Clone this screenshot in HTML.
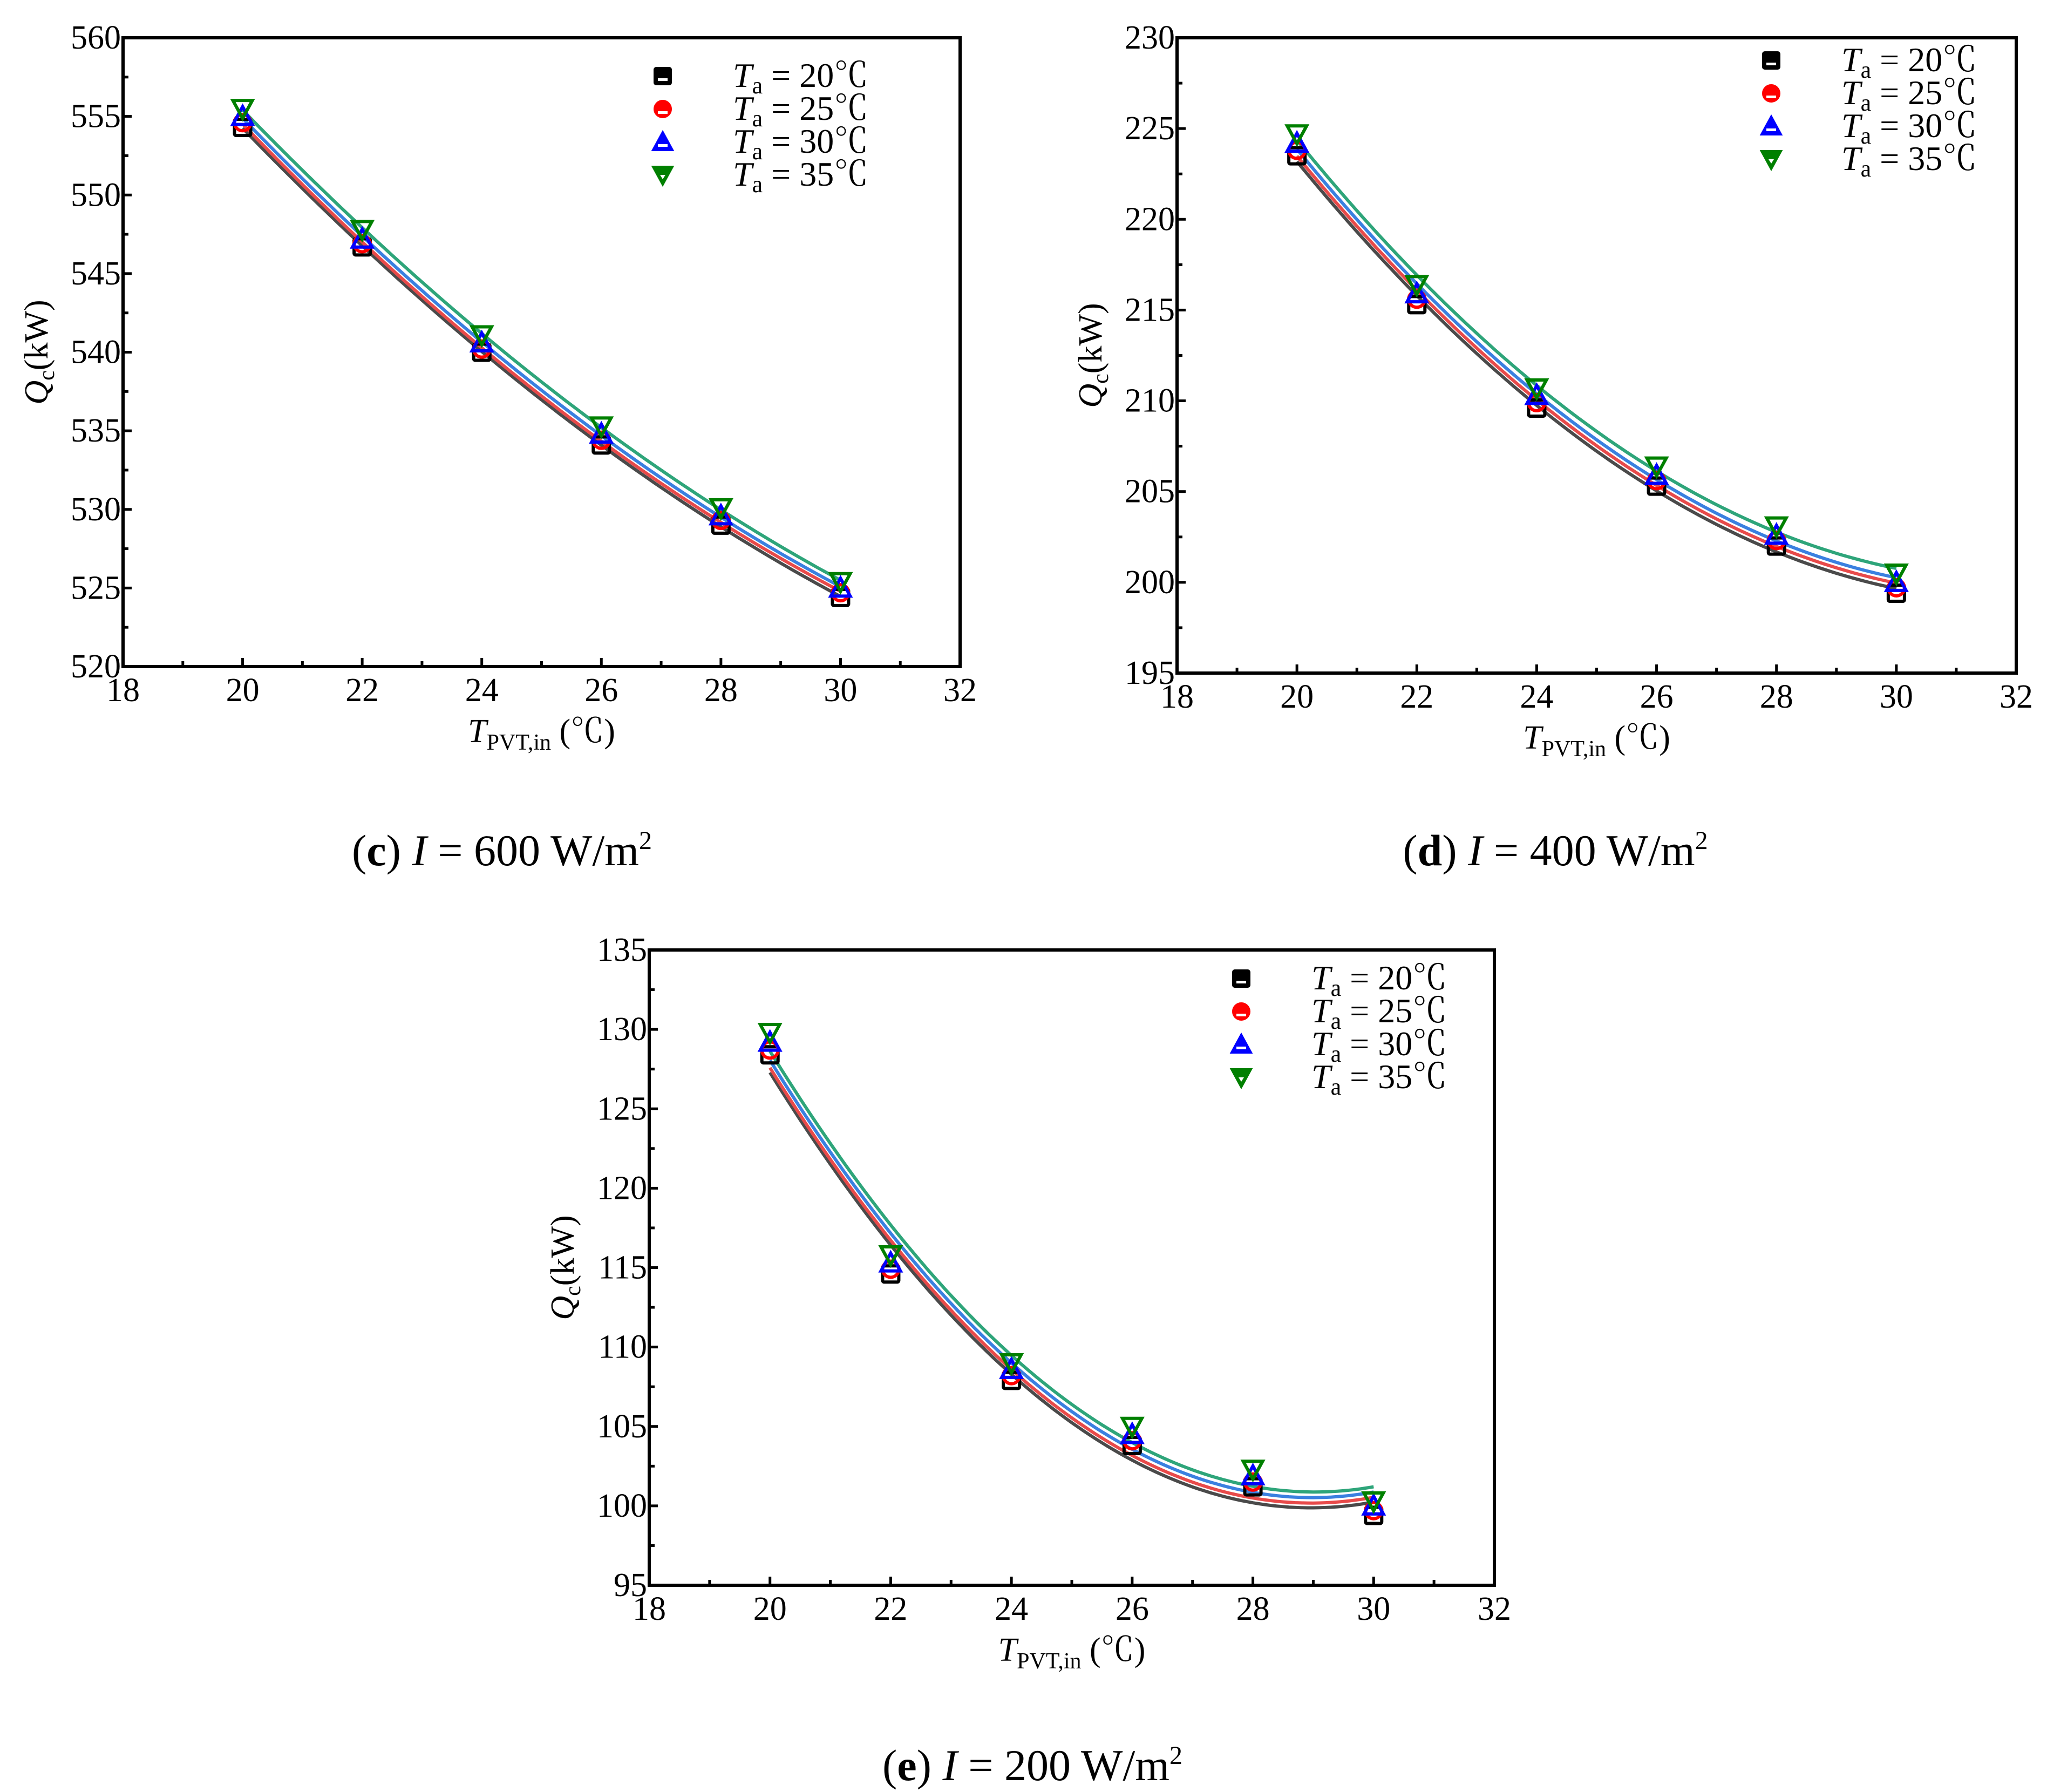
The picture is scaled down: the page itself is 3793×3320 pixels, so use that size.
<!DOCTYPE html>
<html><head><meta charset="utf-8">
<style>
html,body{margin:0;padding:0;background:#fff;}
svg{display:block;font-family:"Liberation Serif","Noto Serif CJK SC",serif;}
</style></head>
<body>
<svg id="fig" width="3793" height="3320" viewBox="0 0 3793 3320" xmlns="http://www.w3.org/2000/svg"></svg>
<script>
const xCats = [20, 22, 24, 26, 28, 30];
const seriesNames = ["20", "25", "30", "35"];
const c_Ta20 = [554.3, 546.7, 540.0, 534.1, 529.0, 524.4];
const c_Ta25 = [554.6, 546.9, 540.2, 534.4, 529.3, 524.7];
const c_Ta30 = [555.0, 547.2, 540.6, 534.8, 529.6, 525.0];
const c_Ta35 = [555.5, 547.8, 541.1, 535.3, 530.1, 525.4];
const d_Ta20 = [223.5, 215.3, 209.6, 205.3, 202.0, 199.4];
const d_Ta25 = [223.8, 215.6, 209.9, 205.6, 202.3, 199.7];
const d_Ta30 = [224.2, 215.9, 210.3, 205.9, 202.6, 200.0];
const d_Ta35 = [224.7, 216.4, 210.7, 206.4, 203.1, 200.5];
const e_Ta20 = [128.4, 114.6, 107.9, 103.8, 101.2, 99.4];
const e_Ta25 = [128.7, 114.9, 108.2, 104.1, 101.5, 99.7];
const e_Ta30 = [129.2, 115.3, 108.6, 104.5, 101.9, 100.0];
const e_Ta35 = [129.8, 115.8, 109.0, 105.0, 102.3, 100.3];
const xTicks = [18, 20, 22, 24, 26, 28, 30, 32];
const c_yTicks = [520, 525, 530, 535, 540, 545, 550, 555, 560];
const d_yTicks = [195, 200, 205, 210, 215, 220, 225, 230];
const e_yTicks = [95, 100, 105, 110, 115, 120, 125, 130, 135];

const NS = "http://www.w3.org/2000/svg";
const svg = document.getElementById("fig");
const markerCols = ["#000000", "#ff0000", "#0000ff", "#008000"];
const lineCols = ["#4a4a4a", "#e84a4a", "#3a80e0", "#2ea57a"];
function mk(tag, attrs, parent) {
  const e = document.createElementNS(NS, tag);
  for (const k in attrs) e.setAttribute(k, attrs[k]);
  (parent || svg).appendChild(e);
  return e;
}
function quadFit(xs, ys) {
  let n = xs.length, S = [0,0,0,0,0], T = [0,0,0];
  for (let i = 0; i < n; i++) {
    const x = xs[i] - 25;
    for (let p = 0; p < 5; p++) S[p] += Math.pow(x, p);
    for (let p = 0; p < 3; p++) T[p] += ys[i] * Math.pow(x, p);
  }
  const A = [[S[0],S[1],S[2],T[0]],[S[1],S[2],S[3],T[1]],[S[2],S[3],S[4],T[2]]];
  for (let i = 0; i < 3; i++) {
    for (let j = i + 1; j < 3; j++) {
      const f = A[j][i] / A[i][i];
      for (let k = i; k < 4; k++) A[j][k] -= f * A[i][k];
    }
  }
  const c = [0,0,0];
  for (let i = 2; i >= 0; i--) {
    let s = A[i][3];
    for (let k = i + 1; k < 3; k++) s -= A[i][k] * c[k];
    c[i] = s / A[i][i];
  }
  return x => c[0] + c[1]*(x-25) + c[2]*(x-25)*(x-25);
}
function drawMarker(g, type, cx, cy, col, legend) {
  const s = 18, sw = 6;
  let el;
  if (type === 0) el = mk("rect", {x: cx-s+3, y: cy-s+3, width: 2*s-6, height: 2*s-6, rx: 3}, g);
  else if (type === 1) el = mk("circle", {cx: cx, cy: cy, r: s-3}, g);
  else if (type === 2) el = mk("polygon", {points: `${cx},${cy-s} ${cx+s},${cy+s-3} ${cx-s},${cy+s-3}`}, g);
  else el = mk("polygon", {points: `${cx-s},${cy-s+3} ${cx+s},${cy-s+3} ${cx},${cy+s}`}, g);
  if (legend) {
    el.setAttribute("fill", col); el.setAttribute("stroke", col); el.setAttribute("stroke-width", 4);
    if (type === 3) mk("polygon", {points: `${cx-5},${cy} ${cx+5},${cy} ${cx},${cy+8}`, fill: "#fff"}, g);
    else mk("rect", {x: cx-9, y: cy+4, width: 18, height: 5, fill: "#fff"}, g);
  } else {
    el.setAttribute("fill", "none"); el.setAttribute("stroke", col); el.setAttribute("stroke-width", sw);
  }
  return el;
}
function chart(cfg) {
  const g = mk("g", {});
  
  
  const {x0, x1, y0, y1, ymin, ymax} = cfg;
  const sx = v => x0 + (v - 18) / 14 * (x1 - x0);
  const sy = v => y1 - (v - ymin) / (ymax - ymin) * (y1 - y0);
  cfg.series.forEach((ys, si) => {
    const f = quadFit(xCats, ys);
    let d = "";
    for (let x = 20; x <= 30.0001; x += 0.1) d += (d ? "L" : "M") + sx(x).toFixed(1) + "," + sy(f(x)).toFixed(1);
    const p = mk("path", {d: d, fill: "none", stroke: lineCols[si], "stroke-width": 6}, g);
    
    
  });
  cfg.series.forEach((ys, si) => {
    ys.forEach((v, i) => {
      const m = drawMarker(g, si, sx(xCats[i]), sy(v), markerCols[si], false);
      
      
    });
  });
  const fr = mk("rect", {x: x0, y: y0, width: x1 - x0, height: y1 - y0, fill: "none", stroke: "#000", "stroke-width": 6}, g);
  
  
  xTicks.forEach((t, i) => {
    const x = sx(t);
    mk("line", {x1: x, y1: y1, x2: x, y2: y1 - 16, stroke: "#000", "stroke-width": 5}, g);
    if (i < xTicks.length - 1) { const xm = sx(t + 1); mk("line", {x1: xm, y1: y1, x2: xm, y2: y1 - 10, stroke: "#000", "stroke-width": 5}, g); }
    const tx = mk("text", {x: x, y: y1 + 64, "font-size": 62, "text-anchor": "middle"}, g);
    tx.textContent = t;
    
    
  });
  cfg.yTicks.forEach((t, i) => {
    const y = sy(t);
    mk("line", {x1: x0, y1: y, x2: x0 + 16, y2: y, stroke: "#000", "stroke-width": 5}, g);
    if (i < cfg.yTicks.length - 1) { const ym = sy(t + 2.5); mk("line", {x1: x0, y1: ym, x2: x0 + 10, y2: ym, stroke: "#000", "stroke-width": 5}, g); }
    const tx = mk("text", {x: x0 - 4, y: y + 20, "font-size": 62, "text-anchor": "end"}, g);
    tx.textContent = t;
    
    
  });
  const xt = mk("text", {x: (x0 + x1) / 2, y: y1 + 140, "font-size": 62, "text-anchor": "middle"}, g);
  xt.innerHTML = '<tspan font-style="italic">T</tspan><tspan font-size="42" dy="14">PVT,in</tspan><tspan dy="-14"> (℃)</tspan>';
  
  
  const yt = mk("text", {x: 0, y: 0, "font-size": 62, "text-anchor": "middle", transform: `translate(${x0 - 140},${(y0 + y1) / 2}) rotate(-90)`}, g);
  yt.innerHTML = '<tspan font-style="italic">Q</tspan><tspan font-size="42" dy="12">c</tspan><tspan dy="-12">(kW)</tspan>';
  
  
  seriesNames.forEach((n, si) => {
    const ly = cfg.ly + si * 61;
    const lg = mk("g", {}, g);
    
    
    drawMarker(lg, si, cfg.lx, ly, markerCols[si], true);
    const t = mk("text", {x: cfg.lx + 130, y: ly + 20, "font-size": 64}, lg);
    t.innerHTML = '<tspan font-style="italic">T</tspan><tspan font-size="44" dy="12">a</tspan><tspan dy="-12"> = ' + n + '℃</tspan>';
  });
  const cap = mk("text", {x: cfg.capx, y: cfg.capy, "font-size": 82, "text-anchor": "middle"}, g);
  cap.innerHTML = '(<tspan font-weight="bold">' + cfg.letter + '</tspan>) <tspan font-style="italic">I</tspan> = ' + cfg.irr + ' W/m<tspan font-size="48" dy="-30">2</tspan>';
  
  
}
chart({name: "chart-c", x0: 228, x1: 1779, y0: 70, y1: 1235, ymin: 520, ymax: 560, yTicks: c_yTicks,
  series: [c_Ta20, c_Ta25, c_Ta30, c_Ta35], lx: 1228, ly: 141, capx: 930, capy: 1603, letter: "c", irr: "600"});
chart({name: "chart-d", x0: 2181, x1: 3736, y0: 70, y1: 1247, ymin: 195, ymax: 230, yTicks: d_yTicks,
  series: [d_Ta20, d_Ta25, d_Ta30, d_Ta35], lx: 3282, ly: 112, capx: 2882, capy: 1603, letter: "d", irr: "400"});
chart({name: "chart-e", x0: 1203, x1: 2769, y0: 1760, y1: 2937, ymin: 95, ymax: 135, yTicks: e_yTicks,
  series: [e_Ta20, e_Ta25, e_Ta30, e_Ta35], lx: 2300, ly: 1813, capx: 1913, capy: 3298, letter: "e", irr: "200"});
</script>
</body></html>
